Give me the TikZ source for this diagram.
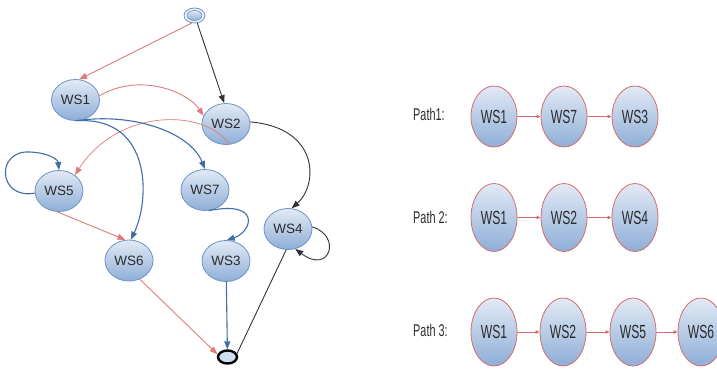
\documentclass[tikz,border=0pt]{standalone}
\usepackage{fontspec}
\setmainfont{Liberation Sans}
\usetikzlibrary{shapes.geometric,arrows.meta}
\definecolor{nodeborder}{HTML}{6B93C6}
\definecolor{nodetop}{HTML}{E2EAF5}
\definecolor{nodebot}{HTML}{8EAED7}
\definecolor{pathborder}{HTML}{D66B6B}
\definecolor{edgeblue}{HTML}{3E6EA8}
\definecolor{edgered}{HTML}{E07B7B}
\definecolor{edgeblack}{HTML}{333333}
\definecolor{labelgrey}{HTML}{2B2B2B}
\newcommand{\narrow}[1]{\scalebox{0.64}[1]{#1}}
\tikzset{
  wsnode/.style={ellipse, draw=nodeborder, line width=0.8pt, top color=nodetop,
    bottom color=nodebot, minimum width=48pt, minimum height=41pt, inner sep=0pt,
    font=\fontsize{13.5}{13.5}\selectfont, text=labelgrey},
  pathnode/.style={ellipse, draw=pathborder, line width=0.8pt, top color=nodetop,
    bottom color=nodebot, minimum width=46pt, minimum height=65pt, inner sep=0pt,
    font=\fontsize{19}{19}\selectfont, text=labelgrey},
  pathlabel/.style={anchor=west, inner sep=0pt, font=\fontsize{17}{17}\selectfont, text=labelgrey},
  bigtip/.style={-{Triangle[length=8pt,width=6pt]}},
  smalltip/.style={-{Triangle[length=4pt,width=3.5pt]}},
  blueedge/.style={draw=edgeblue, line width=1.1pt, bigtip},
  rededge/.style={draw=edgered, line width=0.9pt, bigtip},
  blackedge/.style={draw=edgeblack, line width=0.9pt, bigtip},
  pathedge/.style={draw=pathborder, line width=0.8pt, smalltip},
}
\begin{document}
\begin{tikzpicture}[x=1pt, y=-1pt]
\useasboundingbox (0,0) rectangle (717,371);

% ---------- service graph ----------
\node[ellipse, draw=nodeborder, line width=0.8pt, fill=nodetop!60!white,
  minimum width=21pt, minimum height=15pt, inner sep=0pt] (start) at (194.5,15.5) {};
\node[ellipse, draw=nodeborder, line width=0.6pt, top color=nodetop, bottom color=nodebot,
  minimum width=15pt, minimum height=10pt, inner sep=0pt] (startin) at (194.5,15.5) {};

\node[wsnode] (ws1) at (75.5,100) {WS1};
\node[wsnode] (ws2) at (226,124) {WS2};
\node[wsnode] (ws5) at (59,191) {WS5};
\node[wsnode] (ws7) at (205,190) {WS7};
\node[wsnode] (ws4) at (288,229) {WS4};
\node[wsnode] (ws6) at (129,260.5) {WS6};
\node[wsnode] (ws3) at (226,261) {WS3};

\node[ellipse, draw=black, line width=2.4pt, fill=nodetop!80!nodebot,
  minimum width=19pt, minimum height=13pt, inner sep=0pt] (end) at (227.5,357) {};

% edges from the start node
\draw[rededge] (start.250) -- (ws1.80);
\draw[blackedge] (start.290) -- (ws2.95);

% edges among services
\draw[rededge] (ws1.10) .. controls (140,72) and (188,92) .. (ws2.160);
\draw[rededge, line width=0.7pt] (ws2.280) .. controls (205,108) and (118,108) .. (ws5.45);
\draw[blueedge] (ws1.270) .. controls (132,112) and (190,132) .. (ws7.90);
\draw[blueedge] (ws1.280) .. controls (152,118) and (150,200) .. (ws6.85);
\draw[blueedge] (ws5.185) .. controls (-2,200) and (-5,150) .. (30,152)
  .. controls (50,153) and (58,160) .. (ws5.90);
\draw[rededge] (ws5.265) -- (ws6.100);
\draw[blackedge] (ws2.5) .. controls (320,128) and (318,185) .. (ws4.80);
\draw[blueedge] (ws7.280) .. controls (262,200) and (252,232) .. (ws3.88);
\draw[blackedge] (ws4.5) .. controls (342,236) and (330,275) .. (ws4.290);
\draw[blueedge] (ws3) -- (end);
\draw[rededge] (ws6.300) -- (end.165);
\draw[edgeblack, line width=0.9pt] (end.20) -- (ws4.265);

% ---------- execution paths ----------
\node[pathlabel] (p1) at (413,114) {\narrow{Path1:}};
\node[pathnode, minimum height=61pt] (a1) at (494,116.5) {\narrow{WS1}};
\node[pathnode, minimum height=61pt] (a2) at (564,116.5) {\narrow{WS7}};
\node[pathnode, minimum height=61pt] (a3) at (635,116.5) {\narrow{WS3}};
\draw[pathedge] (a1) -- (a2);
\draw[pathedge] (a2) -- (a3);

\node[pathlabel] (p2) at (413,217) {\narrow{Path 2:}};
\node[pathnode, minimum height=68pt] (b1) at (494,217.5) {\narrow{WS1}};
\node[pathnode, minimum height=68pt] (b2) at (564,217.5) {\narrow{WS2}};
\node[pathnode, minimum height=68pt] (b3) at (635,217.5) {\narrow{WS4}};
\draw[pathedge] (b1) -- (b2);
\draw[pathedge] (b2) -- (b3);

\node[pathlabel] (p3) at (413,330) {\narrow{Path 3:}};
\node[pathnode, minimum height=68pt] (c1) at (494,332) {\narrow{WS1}};
\node[pathnode, minimum height=68pt] (c2) at (563,332) {\narrow{WS2}};
\node[pathnode, minimum height=68pt] (c3) at (633,332) {\narrow{WS5}};
\node[pathnode, minimum height=68pt] (c4) at (701,332) {\narrow{WS6}};
\draw[pathedge] (c1) -- (c2);
\draw[pathedge] (c2) -- (c3);
\draw[pathedge] (c3) -- (c4);
\end{tikzpicture}
\end{document}
